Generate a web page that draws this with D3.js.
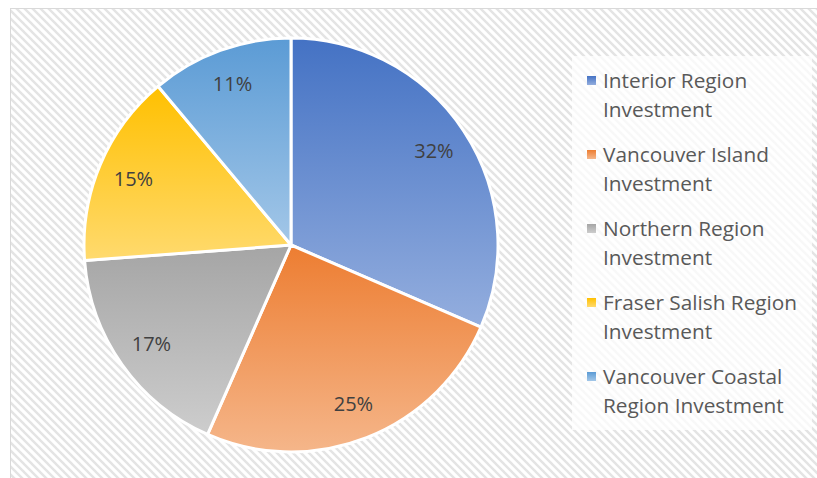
<!DOCTYPE html>
<html>
<head>
<meta charset="utf-8">
<script src="https://cdn.jsdelivr.net/npm/d3@7"></script>
<style>
    body { margin: 0; background: #fff; }
    .sliceLabel { font-family: 'Open Sans', sans-serif; font-size: 20px; fill: #404040; }
    .legendText { font-family: 'Open Sans', sans-serif; font-size: 20.8px; fill: #595959; }
</style>
</head>
<body>
<svg id="chart"></svg>
<script>
const regions = [
    ['Interior Region', 'Investment'],
    ['Vancouver Island', 'Investment'],
    ['Northern Region', 'Investment'],
    ['Fraser Salish Region', 'Investment'],
    ['Vancouver Coastal', 'Region Investment']
];
const shares = [31.5, 25.1, 17.2, 15.1, 11.1];
const topColors = ['#4472C4', '#ED7D31', '#A5A5A5', '#FFC000', '#5B9BD5'];
const bottomColors = ['#94AEDE', '#F5B68A', '#CDCDCD', '#FFDA6E', '#A3C7E8'];

class PieChart {
    constructor(_config) {
        this.config = {
            parentElement: _config.parentElement,
            containerWidth: _config.containerWidth || 817,
            containerHeight: _config.containerHeight || 478,
            center: { x: 291, y: 245 },
            radius: 207
        }
        this.initVis();
    }

    initVis() {
        let vis = this;

        vis.svg = d3.select(vis.config.parentElement)
            .attr('width', vis.config.containerWidth)
            .attr('height', vis.config.containerHeight);

        const defs = vis.svg.append('defs');

        // hatched chart area
        const hatch = defs.append('pattern')
            .attr('id', 'hatch')
            .attr('patternUnits', 'userSpaceOnUse')
            .attr('width', 8)
            .attr('height', 8);
        hatch.append('rect').attr('width', 8).attr('height', 8).attr('fill', '#fff');
        hatch.append('path')
            .attr('d', 'M-2,-2 L10,10 M-2,6 L2,10 M6,-2 L10,2')
            .attr('stroke', '#e4e4e4')
            .attr('stroke-width', 2.4);

        topColors.forEach((c, i) => {
            const g = defs.append('linearGradient')
                .attr('id', `grad${i}`)
                .attr('x1', 0).attr('y1', 0)
                .attr('x2', 0).attr('y2', 1);
            g.append('stop').attr('offset', '0%').attr('stop-color', c);
            g.append('stop').attr('offset', '100%').attr('stop-color', bottomColors[i]);
        });

        vis.svg.append('rect')
            .attr('x', 10.5)
            .attr('y', 8.5)
            .attr('width', vis.config.containerWidth)
            .attr('height', vis.config.containerHeight)
            .attr('fill', 'url(#hatch)')
            .attr('stroke', '#d9d9d9')
            .attr('stroke-width', 1);

        vis.chart = vis.svg.append('g')
            .attr('transform', `translate(${vis.config.center.x},${vis.config.center.y})`);

        vis.legend = vis.svg.append('g')
            .attr('transform', 'translate(572, 56)');

        vis.updateVis();
    }

    updateVis() {
        let vis = this;

        vis.pie = d3.pie().sort(null).value(d => d);
        vis.arc = d3.arc().innerRadius(0).outerRadius(vis.config.radius);
        vis.labelArc = d3.arc().innerRadius(171).outerRadius(171);

        vis.renderVis();
    }

    renderVis() {
        let vis = this;
        const arcs = vis.pie(shares);

        vis.chart.selectAll('.slice')
            .data(arcs)
            .join('path')
            .attr('class', 'slice')
            .attr('d', vis.arc)
            .attr('fill', (d, i) => `url(#grad${i})`)
            .attr('stroke', '#fff')
            .attr('stroke-width', 3)
            .attr('stroke-linejoin', 'round');

        vis.chart.selectAll('.sliceLabel')
            .data(arcs)
            .join('text')
            .attr('class', 'sliceLabel')
            .attr('transform', d => `translate(${vis.labelArc.centroid(d)})`)
            .attr('text-anchor', 'middle')
            .attr('dy', '0.35em')
            .text(d => `${Math.round(d.data)}%`);

        vis.legend.append('rect')
            .attr('width', 240)
            .attr('height', 374)
            .attr('fill', '#fff')
            .attr('opacity', 0.75);

        const item = vis.legend.selectAll('.legendItem')
            .data(regions)
            .join('g')
            .attr('class', 'legendItem')
            .attr('transform', (d, i) => `translate(0, ${25 + i * 74})`);

        item.append('rect')
            .attr('x', 15)
            .attr('y', -5)
            .attr('width', 9)
            .attr('height', 9)
            .attr('fill', (d, i) => `url(#grad${i})`);

        item.append('text')
            .attr('class', 'legendText')
            .attr('x', 31)
            .selectAll('tspan')
            .data(d => d)
            .join('tspan')
            .attr('x', 31)
            .attr('y', (d, j) => j * 29)
            .attr('dy', '0.35em')
            .text(d => d);
    }
}

new PieChart({ parentElement: '#chart' });
</script>
</body>
</html>
